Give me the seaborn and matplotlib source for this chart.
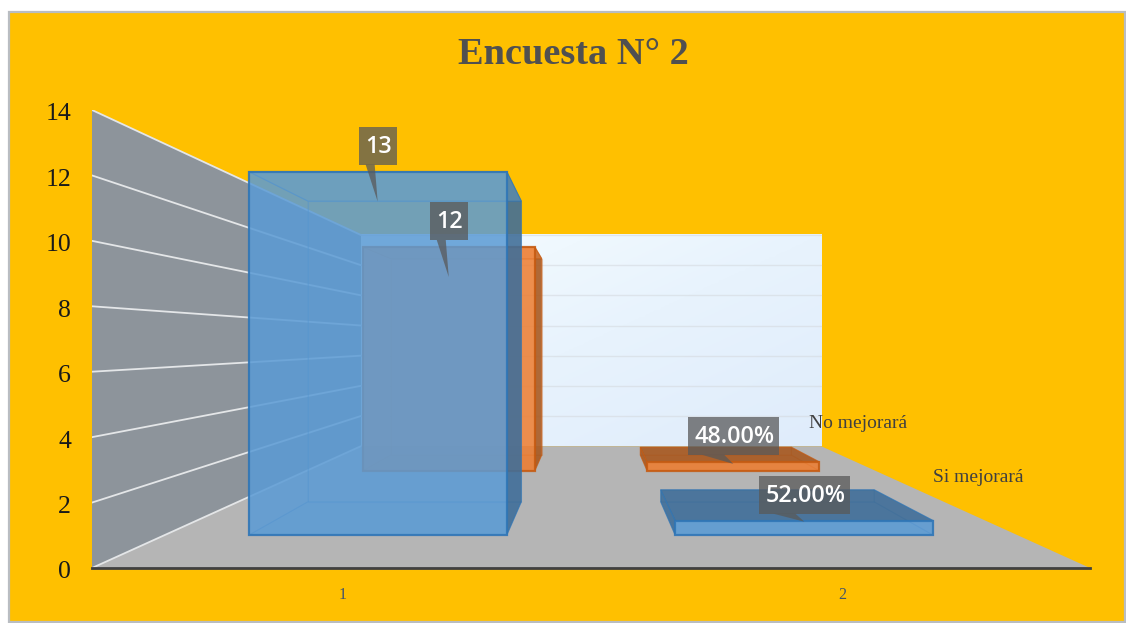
""" Encuesta N 2: Excel style 3D column chart on a seaborn bar layout """

import matplotlib
matplotlib.use("Agg")
import matplotlib.pyplot as plt
import numpy as np
import seaborn as sns
from matplotlib.colors import LinearSegmentedColormap
from matplotlib.patches import Polygon, Rectangle
from matplotlib.transforms import IdentityTransform, ScaledTranslation


# Data
categories = ["1", "2"]
si_values = [13, 0.52]
no_values = [12, 0.48]
si_labels = ["13", "52.00%"]
no_labels = ["12", "48.00%"]
series_names = ["Si mejorará", "No mejorará"]
y_ticks = [0, 2, 4, 6, 8, 10, 12, 14]
title = "Encuesta N° 2"

# Look of the 3D box
W, H = 1126, 623
DEPTH_K = 1.169      # perspective strength
HORIZON = 6.91       # value where the vanishing point sits
BAR_DEPTH = 0.21
BLUE, BLUE_DARK, BLUE_EDGE = "#5B9BD5", "#3F6C96", "#2E75B6"
ORANGE, ORANGE_DARK, ORANGE_EDGE = "#ED7D31", "#A5571F", "#C55A11"

sns.set_theme(style="white")
plt.rcParams["font.family"] = ["Liberation Serif", "DejaVu Serif"]


def scale_at(depth):
    return 1 / (1 + DEPTH_K * depth)


def project(x, value, depth):
    """ Data position at some depth -> data position on the front plane """
    s = scale_at(depth)
    return (0.5 + (x - 0.5) * s, HORIZON + (value - HORIZON) * s)


def box_quad(ax, corners, color, alpha, edge=None, lw=0.0, edge_alpha=0.3, zorder=3):
    points = [project(*c) for c in corners]
    ax.add_patch(Polygon(points, closed=True, facecolor=color, alpha=alpha,
                         edgecolor="none", zorder=zorder))
    if edge:
        ax.add_patch(Polygon(points, closed=True, fill=False, edgecolor=edge,
                             linewidth=lw, alpha=edge_alpha, zorder=zorder))


def draw_bar(ax, x0, x1, value, depth, color, dark, edge, zorder):
    front, back = depth - BAR_DEPTH / 2, depth + BAR_DEPTH / 2
    from_above = value < HORIZON

    box_quad(ax, [(x0, 0, back), (x1, 0, back), (x1, value, back), (x0, value, back)],
             color, 0.3, edge, 0.8, zorder=zorder)
    box_quad(ax, [(x0, 0, front), (x1, 0, front), (x1, 0, back), (x0, 0, back)],
             color, 0.4, edge, 0.8, zorder=zorder)

    # the side away from the vanishing point is the dark outer one
    outer = x1 if x1 < 0.5 else x0
    inner = x0 if x1 < 0.5 else x1
    box_quad(ax, [(inner, 0, front), (inner, 0, back), (inner, value, back), (inner, value, front)],
             color, 0.3, edge, 0.8, zorder=zorder)
    box_quad(ax, [(outer, 0, front), (outer, 0, back), (outer, value, back), (outer, value, front)],
             dark, 0.85, edge, 0.8, 0.6, zorder=zorder)
    box_quad(ax, [(x0, value, front), (x1, value, front), (x1, value, back), (x0, value, back)],
             dark if from_above else color, 0.85 if from_above else 0.45, edge, 0.8, 0.6, zorder=zorder)
    box_quad(ax, [(x0, 0, front), (x1, 0, front), (x1, value, front), (x0, value, front)],
             color, 0.8, edge, 1.6, 0.85, zorder=zorder)


def callout(ax, x, value, depth, text, box_w, tip_dy, flat):
    """ Grey data label, pinned to the top of the front face of a bar """
    ax_x, ax_y = project(x, value, depth - BAR_DEPTH / 2)
    px, py = ax.transData.transform((ax_x, ax_y))
    gap, box_h = 7, 38
    ident = IdentityTransform()
    ax.add_patch(Rectangle((px - box_w / 2, py + gap), box_w, box_h, transform=ident,
                           facecolor="#595959", alpha=0.75, edgecolor="none", zorder=8))
    if flat:
        base = [(px - 31, py + gap), (px - 9, py + gap)]
    else:
        base = [(px - 12, py + gap), (px - 3, py + gap)]
    ax.add_patch(Polygon(base + [(px, py - tip_dy)], transform=ident,
                         facecolor="#595959", alpha=0.75, edgecolor="none", zorder=8))
    ax.text(px + 1, py + gap + box_h / 2 - 1, text, transform=ident, ha="center", va="center",
            color="white", fontsize=16.8, fontweight="semibold", family="Open Sans", zorder=9)


figure = plt.figure(figsize=(W / 100, H / 100), dpi=100, facecolor="white")

# Orange panel with its thin border
figure.add_artist(Rectangle((8.5 / W, 1 - 622 / H), (W - 10) / W, 610 / H,
                            transform=figure.transFigure, facecolor="#FFC000",
                            edgecolor="#B9BDC2", linewidth=1.6, zorder=-1))

# Axes box is the front plane of the 3D chart
axes = figure.add_axes([92 / W, 1 - 568 / H, 998 / W, 458 / H])
axes.patch.set_alpha(0)

# seaborn lays out the bars, their faces are then built from its patches
sns.barplot(x=categories, y=si_values, width=0.605, ax=axes)
si_bars = [(p.get_x(), p.get_x() + p.get_width(), p.get_height()) for p in axes.patches]
for patch in list(axes.patches):
    patch.remove()
sns.barplot(x=categories, y=no_values, width=0.605, ax=axes)
no_bars = [(p.get_x(), p.get_x() + p.get_width(), p.get_height()) for p in axes.patches]
for patch in list(axes.patches):
    patch.remove()

axes.set_xlim(-0.5, 1.5)
axes.set_ylim(y_ticks[0], y_ticks[-1])
axes.set_yticks(y_ticks)
axes.set_xlabel("")
axes.set_ylabel("")
axes.tick_params(axis="y", length=0, pad=15, labelsize=18.5, labelcolor="#1A1A1A")
axes.tick_params(axis="x", length=0, pad=14, labelsize=11.5, labelcolor="#44546A")
for side in ["top", "left", "right"]:
    axes.spines[side].set_visible(False)
axes.spines["bottom"].set_color("#404040")
axes.spines["bottom"].set_linewidth(2)
axes.spines["bottom"].set_zorder(6)

# value labels sit a little under their grid lines, category labels a little to the right
for label in axes.get_yticklabels():
    label.set_transform(label.get_transform() + ScaledTranslation(0, -2 / 100, figure.dpi_scale_trans))
for label in axes.get_xticklabels():
    label.set_transform(label.get_transform() + ScaledTranslation(1.5 / 100, 0, figure.dpi_scale_trans))

x_lo, x_hi = axes.get_xlim()
top = y_ticks[-1]

# Back wall with soft gradient
wall_cmap = LinearSegmentedColormap.from_list("wall", ["#F6FDFF", "#E8F3FD", "#DFECFB"])
xs, ys = np.meshgrid(np.linspace(0, 1, 120), np.linspace(0, 1, 120))
back_x0, back_y0 = project(x_lo, 0, 1)
back_x1, back_y1 = project(x_hi, top, 1)
image = axes.imshow((xs + ys) / 2, cmap=wall_cmap, aspect="auto", origin="upper",
                    extent=(back_x0, back_x1, back_y0, back_y1), zorder=1)
axes.set_xlim(x_lo, x_hi)
axes.set_ylim(y_ticks[0], y_ticks[-1])

# Left wall and floor
box_quad(axes, [(x_lo, 0, 0), (x_lo, 0, 1), (x_lo, top, 1), (x_lo, top, 0)], "#8D949B", 1, zorder=1)
box_quad(axes, [(x_lo, 0, 0), (x_hi, 0, 0), (x_hi, 0, 1), (x_lo, 0, 1)], "#B5B5B5", 1, zorder=1)

# Grid lines run along the side wall and across the back wall
for tick in y_ticks:
    p0, p1, p2 = project(x_lo, tick, 0), project(x_lo, tick, 1), project(x_hi, tick, 1)
    axes.plot([p0[0], p1[0]], [p0[1], p1[1]], color="#E4E6E8", lw=1.3, zorder=2)
    if tick > 0:
        axes.plot([p1[0], p2[0]], [p1[1], p2[1]], color="#D5DADF", lw=1.0, alpha=0.6, zorder=2)

# Bars, far series first
for x0, x1, value in no_bars:
    draw_bar(axes, x0, x1, value, 0.75, ORANGE, ORANGE_DARK, ORANGE_EDGE, 3)
for x0, x1, value in si_bars:
    draw_bar(axes, x0, x1, value, 0.25, BLUE, BLUE_DARK, BLUE_EDGE, 4)

# Data labels
for (x0, x1, value), text in zip(no_bars, no_labels):
    flat = value < 1
    callout(axes, (x0 + x1) / 2, value, 0.75, text, 91 if flat else 38, 2 if flat else 30, flat)
for (x0, x1, value), text in zip(si_bars, si_labels):
    flat = value < 1
    callout(axes, (x0 + x1) / 2, value, 0.25, text, 91 if flat else 38, 1 if flat else 30, flat)

# Series names sit off the right edge of the floor
for name, depth in zip(series_names, [0.25, 0.75]):
    lx, ly = axes.transData.transform(project(x_hi, 0, depth))
    axes.text(lx + 1, ly + 39, name, transform=IdentityTransform(), ha="center", va="center",
              fontsize=14, color="#404040", zorder=7)

figure.text(573 / W, 1 - 55 / H, title, ha="center", va="center", fontsize=27.6,
            fontweight="bold", color="#505050")

figure.savefig("out.png", dpi=100, facecolor="white")
